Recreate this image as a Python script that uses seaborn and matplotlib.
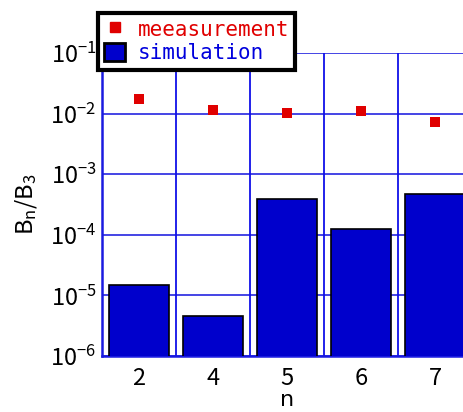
import matplotlib
matplotlib.use("Agg")
import matplotlib.pyplot as plt
import seaborn as sns
import pandas as pd
from matplotlib.lines import Line2D
from matplotlib.patches import Patch

categories = ["2", "4", "5", "6", "7"]
simulation = [1.46e-5, 4.6e-6, 3.9e-4, 1.24e-4, 4.8e-4]
measurement = [0.0172, 0.0116, 0.0103, 0.0112, 0.0073]
ytick_vals = [1e-6, 1e-5, 1e-4, 1e-3, 1e-2, 1e-1]
ytick_labels = ["$10^{-6}$", "$10^{-5}$", "$10^{-4}$", "$10^{-3}$", "$10^{-2}$", "$10^{-1}$"]

sns.set_style("white")
plt.rcParams['font.family'] = ['Noto Sans CJK JP', 'DejaVu Sans']
plt.rcParams['mathtext.fontset'] = 'custom'
plt.rcParams['mathtext.rm'] = 'Noto Sans CJK JP'
plt.rcParams['mathtext.it'] = 'Noto Sans CJK JP'
plt.rcParams['mathtext.default'] = 'regular'
plt.rcParams['text.color'] = 'black'
plt.rcParams['axes.labelcolor'] = 'black'
plt.rcParams['xtick.color'] = 'black'
plt.rcParams['ytick.color'] = 'black'

df = pd.DataFrame({"n": categories, "sim": simulation, "meas": measurement})

fig = plt.figure(figsize=(4.63, 4.12), dpi=100)
ax = fig.add_axes([102/463, 56/412, 370/463, 303/412])

sns.barplot(data=df, x="n", y="sim", order=categories, color="#0000cc",
            saturation=1, width=0.82, edgecolor="black", linewidth=1.2, ax=ax, zorder=3)
sns.stripplot(data=df, x="n", y="meas", order=categories, jitter=False,
              marker="s", color="#e00000", size=6.5, linewidth=0, ax=ax, zorder=4)

ax.set_yscale("log")
ax.set_ylim(1e-6, 1e-1)
ax.set_xlim(-0.5, 4.5)
ax.set_yticks(ytick_vals)
ax.set_yticklabels(ytick_labels)
ax.minorticks_off()
ax.tick_params(axis="y", length=0, labelsize=17, pad=4, labelcolor="black")
ax.tick_params(axis="x", length=0, labelsize=17, pad=8, labelcolor="black")

ax.grid(True, which="major", axis="y", color="#2020e0", linewidth=1.3, alpha=0.9, zorder=0)
ax.set_axisbelow(True)
for xv in [0.5, 1.5, 2.5, 3.5]:
    ax.axvline(xv, color="#1010e8", linewidth=1.3, zorder=1)
for side in ["top", "right"]:
    ax.spines[side].set_visible(False)
for side in ["left", "bottom"]:
    ax.spines[side].set_color("#1a1ae0")
    ax.spines[side].set_linewidth(1.8)

ax.set_xlabel("n", fontsize=16, color="black", family="DejaVu Sans")
ax.xaxis.set_label_coords(0.5, -(410 - 356) / 303)
ax.xaxis.label.set_va("bottom")
ax.set_ylabel("B$_n$/B$_3$", fontsize=17, labelpad=8, color="black")

handles = [
    Line2D([0], [0], marker="s", color="none", markerfacecolor="#e00000",
           markeredgecolor="#e00000", markersize=6.5, linestyle="none"),
    Patch(facecolor="#0000cc", edgecolor="black", linewidth=2),
]
leg = fig.legend(handles, ["meeasurement", "simulation"],
                 loc="upper left", bbox_to_anchor=(98/463, 1 - 13/412),
                 frameon=True, fancybox=False, framealpha=1,
                 prop={"family": "DejaVu Sans Mono", "size": 15},
                 handlelength=1.0, handleheight=1.0, handletextpad=0.6,
                 borderpad=0.3, labelspacing=0.15, borderaxespad=0)
leg.get_frame().set_edgecolor("black")
leg.get_frame().set_linewidth(3)
leg.texts[0].set_color("#e00000")
leg.texts[1].set_color("#0000dd")

fig.savefig("out.png", dpi=100)
